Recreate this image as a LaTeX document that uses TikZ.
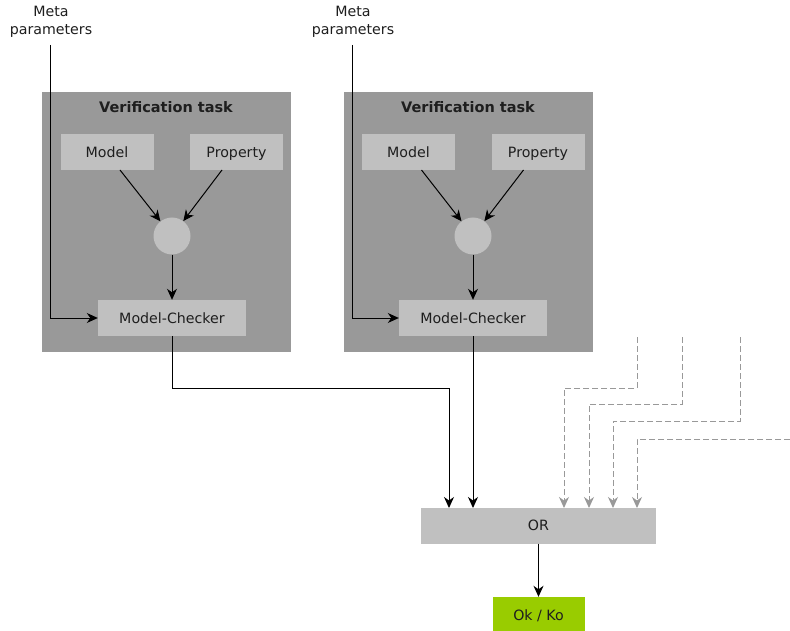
\documentclass[tikz,border=0pt]{standalone}
\usepackage{fontspec}
\setmainfont{DejaVu Sans}
\usetikzlibrary{arrows.meta}
\definecolor{taskgray}{RGB}{153,153,153}
\definecolor{boxgray}{RGB}{192,192,192}
\definecolor{okgreen}{RGB}{153,204,0}
\definecolor{txt}{RGB}{30,30,30}
\begin{document}
\begin{tikzpicture}[x=1pt,y=-1pt,
  every node/.style={font=\fontsize{14.2}{17}\selectfont, text=txt},
  task/.style={fill=taskgray, draw=none, minimum width=249pt, minimum height=260pt, inner sep=0pt},
  lbox/.style={fill=boxgray, draw=none, inner sep=0pt, text height=10.5pt, text depth=0pt},
  joint/.style={circle, fill=boxgray, draw=none, minimum size=37pt, inner sep=0pt},
  conn/.style={black, line width=1pt, -{Stealth[length=11pt,width=10pt,inset=3.5pt]}},
  dconn/.style={taskgray, line width=1pt, dash pattern=on 6pt off 3pt, -{Stealth[length=11pt,width=10pt,inset=3.5pt]}},
  meta/.style={align=center, inner sep=0pt, font=\fontsize{14.2}{17.5}\selectfont},
  title/.style={font=\bfseries\fontsize{14.5}{17}\selectfont}
]
\useasboundingbox (0,0) rectangle (790,631);

% ---------- left task ----------
\node[task] (t1) at (166,222) {};
\node[title] (vt1) at (166,107) {Verification task};
\node[lbox, minimum width=93pt, minimum height=36pt] (m1) at (107,152) {Model};
\node[lbox, minimum width=93pt, minimum height=36pt] (p1) at (236.5,152) {Property};
\node[joint] (c1) at (172,236) {};
\node[lbox, minimum width=148pt, minimum height=36pt] (mc1) at (172,318) {Model-Checker};
\node[meta] (mp1) at (51,22) {Meta\\parameters};
\coordinate (s1) at (50,45);

% ---------- right task ----------
\node[task] (t2) at (468,222) {};
\node[title] (vt2) at (468,107) {Verification task};
\node[lbox, minimum width=93pt, minimum height=36pt] (m2) at (408.5,152) {Model};
\node[lbox, minimum width=93pt, minimum height=36pt] (p2) at (538,152) {Property};
\node[joint] (c2) at (473,236) {};
\node[lbox, minimum width=148pt, minimum height=36pt] (mc2) at (473,318) {Model-Checker};
\node[meta] (mp2) at (353,22) {Meta\\parameters};
\coordinate (s2) at (352,45);

% ---------- OR and result ----------
\node[lbox, minimum width=235pt, minimum height=36pt] (or) at (538.5,525.5) {OR};
\node[lbox, fill=okgreen, minimum width=92pt, minimum height=36pt] (ok) at (538.5,615) {Ok / Ko};

% ---------- connectors in tasks ----------
\draw[conn] (120,170) -- (c1);
\draw[conn] (222,170) -- (c1);
\draw[conn] (c1) -- (mc1);
\draw[conn] (s1) |- (mc1.west);

\draw[conn] (421.5,170) -- (c2);
\draw[conn] (523.5,170) -- (c2);
\draw[conn] (c2) -- (mc2);
\draw[conn] (s2) |- (mc2.west);

% ---------- to OR ----------
\draw[conn] (mc1.south) -- (172,388) -- (449,388) -- (449,508);
\draw[conn] (mc2.south) -- (473,508);
\draw[conn] (or) -- (ok);

% ---------- dashed inputs ----------
\coordinate (d1) at (637,337);
\coordinate (d2) at (682,337);
\coordinate (d3) at (740,337);
\coordinate (d4) at (790,439);
\draw[dconn] (d1) -- (637,388) -- (564,388) -- (564,508);
\draw[dconn] (d2) -- (682,404) -- (589,404) -- (589,508);
\draw[dconn] (d3) -- (740,421) -- (613,421) -- (613,508);
\draw[dconn] (d4) -- (637,439) -- (637,508);
\end{tikzpicture}
\end{document}
